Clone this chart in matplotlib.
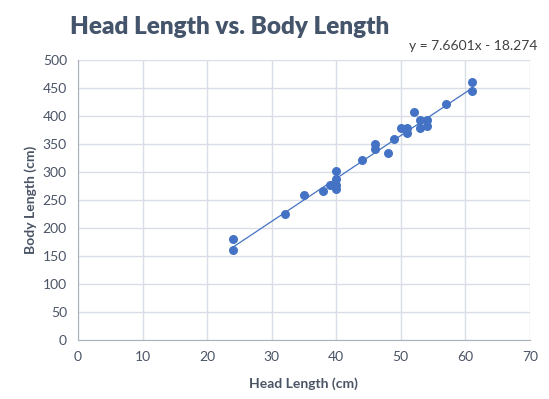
import numpy as np
import matplotlib
matplotlib.use('Agg')
import matplotlib.pyplot as plt

# Data
head_length = [24, 24, 32, 35, 38, 39, 40, 40, 40, 40, 44, 46, 46, 48, 49,
               50, 51, 51, 52, 53, 53, 54, 54, 57, 61, 61]
body_length = [180, 161, 225, 259, 265, 276, 276, 270, 288, 301, 322, 350, 341, 333, 358,
               378, 378, 369, 407, 392, 378, 392, 382, 421, 460, 444]
slope = 7.6601
intercept = -18.274

plt.rcParams['font.family'] = ['Lato', 'DejaVu Sans']

fig = plt.figure(figsize=(5.49, 3.99), dpi=100)
ax = fig.add_axes([0.142, 0.148, 0.823, 0.702])

ax.scatter(head_length, body_length, s=42, color='#4472C4', zorder=3, linewidths=0)
xs = np.array([min(head_length), max(head_length)])
ax.plot(xs, slope * xs + intercept, color='#4472C4', linewidth=0.9, zorder=2)

ax.set_xlim(0, 70)
ax.set_ylim(0, 500)
ax.set_xticks(range(0, 71, 10))
ax.set_yticks(range(0, 501, 50))
ax.grid(True, color='#D9DEE6', linewidth=1)
ax.set_axisbelow(True)
for s in ['top', 'right']:
    ax.spines[s].set_visible(False)
for s in ['left', 'bottom']:
    ax.spines[s].set_color('#A9B1BE')
ax.tick_params(length=0, labelsize=10, colors='#4A5465', pad=8)

ax.set_xlabel('Head Length (cm)', fontsize=10, fontweight='bold', color='#4A5465', labelpad=10)
ax.set_ylabel('Body Length (cm)', fontsize=10, fontweight='bold', color='#4A5465', labelpad=4)

fig.text(0.418, 0.932, 'Head Length vs. Body Length', ha='center', va='center',
         fontsize=17.5, fontweight='heavy', color='#44546A')
fig.text(0.978, 0.885, 'y = 7.6601x - 18.274', ha='right', va='center',
         fontsize=10, color='#404040')

fig.savefig('out.png', dpi=100)
